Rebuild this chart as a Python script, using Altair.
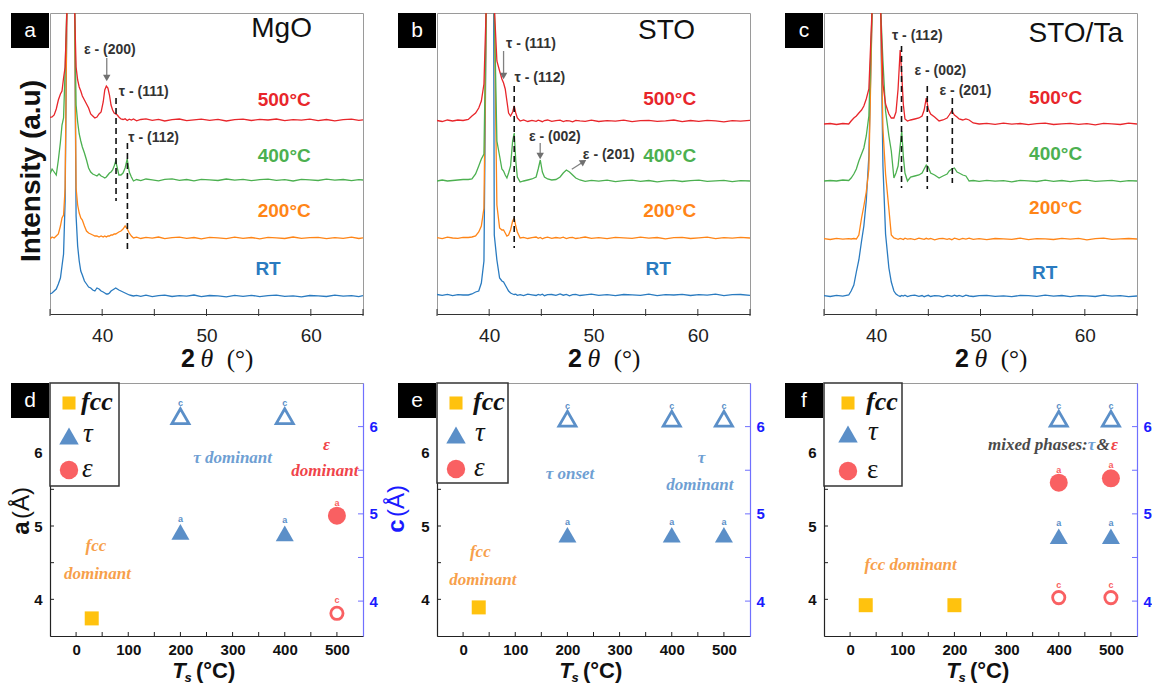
import math
import altair as alt
import pandas as pd

SANS = "Liberation Sans"
SERIF = "Liberation Serif"

# ---------------- top row: XRD patterns ----------------
SERIES = ["RT", "200°C", "400°C", "500°C"]
SERIES_COLORS = ["#2A7BC0", "#FF8517", "#4CB050", "#E8262B"]
TOP_TICKS = [35, 40, 45, 50, 55, 60, 65]
TOP_LABELS = [40, 50, 60]

# panel a (MgO)
XA = [35.0, 35.2, 35.4, 35.6, 35.8, 36.0, 36.15, 36.3, 36.45, 36.62,
      37.0, 37.36, 37.5, 37.65, 37.8, 37.95, 38.1, 38.3, 38.5, 38.7,
      38.9, 39.1, 39.3, 39.5, 39.7, 39.9, 40.1, 40.25, 40.4, 40.55,
      40.7, 40.85, 41.0, 41.15, 41.3, 41.45, 41.6, 41.8, 42.0, 42.2,
      42.4, 42.6, 42.8, 43.0, 43.3, 43.7, 44.2, 44.8, 45.4, 46.0,
      46.7, 47.4, 48.1, 48.8, 49.5, 50.3, 51.1, 51.9, 52.7, 53.5,
      54.3, 55.1, 55.9, 56.7, 57.5, 58.3, 59.1, 59.9, 60.7, 61.5,
      62.3, 63.1, 63.9, 64.6, 65.0]
A_500 = [2.7, 3, 5, 11, 20, 26, 29, 42, 53, 110,
         1500, 110, 53, 40, 33, 29, 24, 20, 16, 12,
         6, 4, 2, 3, 6, 8, 18, 30, 34, 32,
         25, 15, 10, 7, 6, 5, 3, 1, 0.5, 1.2,
         -0.5, 0.8, 0, 1, -0.8, 0.5, 1.2, -0.3, 0.6, -1,
         0.4, 1, -0.6, 0.2, 0.9, -0.4, 0.7, -1, 0.3, 0.8,
         -0.5, 0.6, 0, 1, -0.7, 0.4, -0.2, 0.9, -0.6, 0.5,
         -0.9, 0.3, 0.8, -0.4, 0.2]
A_400 = [6, 11, 8, 5, 20, 38, 55, 62, 110, 175,
         1500, 175, 75, 58, 46, 39, 33, 27, 20, 12,
         8, 6, 5, 4, 6, 4, 3, 2, 3, 5,
         7, 8, 10, 14, 19, 12, 5, 5, 7, 12,
         21, 8, 3, -1, 0.5, -0.6, 1, 0.2, -0.8, 0.6,
         1.1, -0.3, 0.5, -0.9, 0.7, 0.1, -0.5, 1, -0.2, 0.6,
         -0.7, 0.4, 0.9, -0.4, 0.3, -1, 0.6, 0.2, -0.5, 0.8,
         -0.2, 0.5, -0.7, 0.4, 0]
A_200 = [-1, 1, 0, 2, 4, 12, 20, 23, 50, 230,
         1500, 230, 50, 33, 25, 20, 18, 12, 7, 5,
         4, 3, 2, 2, 1, 2, 1, 2, 1, 2,
         2, 3, 3, 4, 4, 5, 6, 7, 9, 12,
         9, 5, 2, 0, 0.8, -0.5, 0.6, -0.2, 1, -0.7,
         0.3, 0.9, -0.4, 0.5, -0.9, 0.7, 0.2, -0.6, 0.8, -0.3,
         0.5, -0.8, 0.6, 0.1, -0.5, 1, -0.4, 0.3, 0.7, -0.6,
         0.4, -0.3, 0.9, -0.5, 0.2]
A_RT = [2, 3, 5, 7, 12, 18, 30, 42, 95, 290,
        1500, 290, 80, 50, 35, 25, 21, 15, 12, 9,
        8, 6, 5, 8, 7, 5, 4, 3, 2, 2,
        3, 5, 6, 7, 8, 7, 6, 5, 4, 3,
        2, 1, 0.5, 0, 0.7, -0.4, 0.9, -0.6, 0.3, 0.8,
        -0.5, 0.4, -0.1, 1, -0.7, 0.5, 0.2, -0.8, 0.6, -0.3,
        0.7, -0.6, 0.3, 0.9, -0.4, 0.2, -0.9, 0.5, 0.1, -0.5,
        0.8, -0.2, 0.4, -0.7, 0.3]
A_OFFSET = [18, 76, 134, 194]
A_LAB_X = [55.9, 57.45, 57.45, 57.45]
A_LAB_Y = [45, 103, 158, 214]
A_PEAK_TEXT = ["ε - (200)", "τ - (111)", "τ - (112)"]
A_PEAK_X = [40.73, 43.98, 44.93]
A_PEAK_Y = [264, 222, 176]
A_DASH_X = [41.33, 42.42]
A_DASH_TOP = [216, 171]
A_DASH_BOT = [113, 65]
A_ARROW_X0 = [40.44]
A_ARROW_Y0 = [256]
A_ARROW_X1 = [40.44]
A_ARROW_Y1 = [236]

# panel b (STO)
XB = [35.0, 35.5, 36.0, 36.5, 37.0, 37.5, 38.0, 38.35, 38.7, 39.0,
      39.25, 39.5, 39.72, 40.1, 40.49, 40.74, 41.0, 41.22, 41.38, 41.54,
      41.7, 41.86, 42.05, 42.25, 42.4, 42.55, 42.7, 42.97, 43.3, 43.7,
      44.1, 44.5, 44.7, 44.9, 45.1, 45.3, 45.6, 46.0, 46.4, 46.8,
      47.1, 47.4, 47.7, 48.0, 48.3, 48.7, 49.2, 49.8, 50.5, 51.3,
      52.1, 52.9, 53.7, 54.5, 55.3, 56.1, 56.9, 57.7, 58.5, 59.3,
      60.1, 60.9, 61.7, 62.5, 63.3, 64.1, 65.0]
B_500 = [0.5, -0.5, 1, 0, 1, 0.5, 1.5, 5, 8, 13,
         20, 37, 115, 1500, 115, 60, 50, 42, 38, 32,
         20, 8, 5, 9, 15, 8, 3, 0, 1, -0.5,
         0.6, -0.3, 0.9, 0.2, -0.7, 0.5, 1, -0.4, 0.3, 0.8,
         -0.6, 0.4, 0.1, -0.8, 0.7, 0.2, -0.3, 0.9, -0.5, 0.4,
         -0.2, 0.8, -0.7, 0.3, 0.6, -0.4, 0.1, 1, -0.6, 0.5,
         -0.3, 0.7, 0.2, -0.8, 0.4, -0.1, 0.6]
B_400 = [0, 1, 0, 0.5, 1, 1.5, 1.5, 2, 7, 15,
         22, 27, 175, 1500, 175, 40, 25, 12, 10, 6,
         3, 8, 15, 40, 48, 20, 4, -1, 0, 1,
         2, 4, 12, 21, 9, 4, 2, 1, 1.5, 4,
         8, 11, 9, 6, 3, 1, -0.4, 0.6, -0.2, 0.8,
         -0.6, 0.3, 0.9, -0.3, 0.5, -0.8, 0.2, 0.7, -0.5, 0.4,
         0.9, -0.4, 0.1, 0.6, -0.7, 0.3, 0]
B_200 = [0.3, -0.6, 0.8, 0, -0.4, 0.6, 0.5, 1, 2, 6,
         12, 30, 230, 1500, 230, 33, 10, 8, 8, 5,
         2, 3, 8, 17, 20, 12, 6, 0, 0.7, -0.5,
         0.4, 1, -0.3, 0.6, -0.8, 0.2, 0.9, -0.4, 0.5, -0.1,
         0.8, -0.6, 0.3, 0.7, -0.5, 0.1, 1, -0.3, 0.4, -0.7,
         0.6, 0.2, -0.4, 0.9, -0.2, 0.5, -0.8, 0.3, 0.7, -0.5,
         0.2, 0.8, -0.6, 0.4, -0.1, 0.6, 0]
B_RT = [0.5, -0.3, 0.7, -0.6, 0.4, 0, 0, 1, 3, 4,
        12, 34, 285, 1500, 60, 35, 17, 14, 13, 10,
        7, 4, 2, 1, 0.5, 0.8, -0.3, 0.4, -0.6, 0.9,
        0.2, -0.5, 0.6, -0.1, 0.8, -0.7, 0.3, 0.5, -0.4, 1,
        -0.2, 0.6, -0.8, 0.3, 0.7, -0.5, 0.1, 0.9, -0.3, 0.4,
        -0.7, 0.5, 0.2, -0.4, 0.8, -0.6, 0.3, 0, 0.7, -0.5,
        0.4, -0.2, 0.9, -0.6, 0.3, 0.5, -0.3]
B_OFFSET = [19, 76, 133, 193]
B_LAB_X = [56.2, 57.3, 57.3, 57.3]
B_LAB_Y = [45, 103, 158, 215]
B_PEAK_TEXT = ["τ - (111)", "τ - (112)", "ε - (002)", "ε - (201)"]
B_PEAK_X = [44.0, 44.86, 46.3, 51.46]
B_PEAK_Y = [270, 236, 177, 159]
B_DASH_X = [42.40]
B_DASH_TOP = [228]
B_DASH_BOT = [66]
B_ARROW_X0 = [41.38, 44.89, 47.92]
B_ARROW_Y0 = [263, 171, 144.7]
B_ARROW_X1 = [41.38, 44.89, 49.04]
B_ARROW_Y1 = [238, 158, 152.3]

# panel c (STO/Ta)
XC = [35.0, 35.6, 36.2, 36.8, 37.37, 37.6, 37.86, 38.1, 38.34, 38.6,
      38.82, 39.05, 39.3, 39.62, 40.0, 40.42, 40.65, 40.9, 41.22, 41.45,
      41.7, 41.9, 42.1, 42.3, 42.45, 42.6, 42.76, 43.0, 43.3, 43.7,
      44.1, 44.4, 44.6, 44.8, 45.0, 45.22, 45.6, 46.03, 46.4, 46.8,
      47.0, 47.25, 47.5, 47.75, 47.95, 48.3, 48.6, 48.91, 49.3, 49.87,
      50.6, 51.4, 52.2, 53.0, 53.8, 54.6, 55.4, 56.2, 57.0, 57.8,
      58.6, 59.4, 60.2, 61.0, 61.8, 62.6, 63.4, 64.2, 65.0]
C_500 = [0, 0.5, -0.5, 0.5, 0, 3, 6, 8, 11, 14,
         18, 25, 35, 118, 1500, 118, 40, 20, 10, 6,
         6, 12, 35, 74, 50, 20, 5, 3, 4, 5,
         6, 8, 14, 26, 15, 10, 7, 3, 4, 6,
         9, 13, 9, 7, 5, 4, 5, 4, 1, 0,
         0.6, -0.4, 0.8, -0.2, 0.5, -0.7, 0.3, 0.9, -0.5, 0.2,
         0.7, -0.3, 0.4, -0.8, 0.6, 0.1, -0.5, 0.8, 0]
C_400 = [0, 0.5, 0, 1, 0.5, 3, 7, 12, 20, 27,
         33, 45, 65, 175, 1500, 175, 120, 70, 45, 30,
         3, 8, 15, 35, 50, 25, 8, 0, 4, 5,
         6, 8, 12, 16, 14, 8, 6, 3, 5, 7,
         10, 12, 13, 9, 8, 6, 5, 0, 0.5, -0.4,
         0.7, -0.2, 0.4, -0.8, 0.6, 0.2, -0.5, 0.9, -0.3, 0.5,
         -0.6, 0.3, 0.8, -0.4, 0.1, 0.6, -0.7, 0.4, 0]
C_200 = [0.3, -0.5, 0.6, -0.2, 0.4, 0, 0.5, 0, 4, 21,
         33, 47, 70, 230, 1500, 230, 110, 65, 30, 4,
         1, 0.5, -0.3, 0.6, 0.2, -0.5, 0.8, -0.2, 0.4, -0.6,
         0.9, 0.1, -0.4, 0.7, -0.1, 0.5, -0.8, 0.3, 0.6, -0.3,
         0.4, -0.7, 0.8, 0.2, -0.5, 0.6, -0.1, 0.9, -0.4, 0.3,
         -0.6, 0.5, 0.1, -0.3, 0.8, -0.7, 0.4, 0.2, -0.5, 0.7,
         -0.2, 0.6, -0.8, 0.3, 0.9, -0.4, 0.1, 0.5, 0]
C_RT = [0.4, -0.5, 0.7, -0.2, 1, 5, 11, 24, 36, 55,
        70, 95, 140, 290, 1500, 290, 130, 62, 28, 14,
        5, 2, 0.5, -0.4, 0.6, -0.1, 0.8, -0.6, 0.3, 0.9,
        -0.3, 0.5, -0.7, 0.2, 0.7, -0.5, 0.4, 0.1, -0.8, 0.6,
        0.3, -0.4, 0.9, -0.2, 0.5, -0.6, 0.8, 0, -0.5, 0.4,
        0.7, -0.3, 0.2, -0.7, 0.6, 0.3, -0.4, 0.9, -0.1, 0.5,
        -0.6, 0.4, 0.1, -0.5, 0.8, -0.2, 0.3, -0.7, 0]
C_OFFSET = [18, 75, 133, 190]
C_LAB_X = [56.15, 57.2, 57.2, 57.2]
C_LAB_Y = [41, 106, 160, 216]
C_PEAK_TEXT = ["τ - (112)", "ε - (002)", "ε - (201)"]
C_PEAK_X = [43.94, 46.15, 48.56]
C_PEAK_Y = [278, 243, 223]
C_DASH_X = [42.43, 44.9, 47.3]
C_DASH_TOP = [268, 228, 216]
C_DASH_BOT = [126, 125, 131]

# ---------------- bottom row: lattice parameters ----------------
BOT_LABELS = [0, 100, 200, 300, 400, 500]
BOT_TICKS = [0, 50, 100, 150, 200, 250, 300, 350, 400, 450, 500]
A_AXIS_VALUES = [4, 5, 6]
A_TICKS = [4, 4.5, 5, 5.5, 6, 6.5]
C_AXIS_VALUES = [4, 5, 6]
C_TICKS = [4, 4.5, 5, 5.5, 6]

# panel d
D_FCC_T, D_FCC_A = [30], [3.74]
D_TAU_T, D_TAU_A = [200, 400], [4.92, 4.90]
D_EPS_T, D_EPS_A = [500], [5.14]
D_TAUC_T, D_TAUC_C = [200, 400], [6.12, 6.12]
D_EPSC_T, D_EPSC_C = [500], [3.86]
# panel e
E_FCC_T, E_FCC_A = [30], [3.89]
E_TAU_T, E_TAU_A = [200, 400, 500], [4.88, 4.88, 4.88]
E_EPS_T, E_EPS_A = [], []
E_TAUC_T, E_TAUC_C = [200, 400, 500], [6.09, 6.09, 6.09]
E_EPSC_T, E_EPSC_C = [], []
# panel f
F_FCC_T, F_FCC_A = [30, 200], [3.92, 3.92]
F_TAU_T, F_TAU_A = [400, 500], [4.86, 4.86]
F_EPS_T, F_EPS_A = [400, 500], [5.59, 5.65]
F_TAUC_T, F_TAUC_C = [400, 500], [6.09, 6.09]
F_EPSC_T, F_EPSC_C = [400, 500], [4.04, 4.04]

C_FCC = "#FFC20E"
C_TAU = "#5B8FC8"
C_EPS = "#F96062"
N_BLUE = "#6F9FD3"
N_RED = "#F0444A"
N_ORANGE = "#F7A04B"
N_GRAY = "#4A4A4A"
AXIS_BLUE = "#1A1AFF"

D_NOTE_TEXT = ["τ dominant", "ε", "dominant", "fcc", "dominant"]
D_NOTE_T = [300, 480, 477, 38, 41]
D_NOTE_A = [5.93, 6.11, 5.75, 4.73, 4.35]
D_NOTE_COL = [N_BLUE, N_RED, N_RED, N_ORANGE, N_ORANGE]
E_NOTE_TEXT = ["τ onset", "τ", "dominant", "fcc", "dominant"]
E_NOTE_T = [205, 457, 454, 33, 38]
E_NOTE_A = [5.71, 5.93, 5.56, 4.65, 4.27]
E_NOTE_COL = [N_BLUE, N_BLUE, N_BLUE, N_ORANGE, N_ORANGE]
F_NOTE_TEXT = ["mixed phases:", "τ", "&", "ε", "fcc dominant"]
F_NOTE_T = [360, 463, 485, 507, 116]
F_NOTE_A = [6.11, 6.11, 6.11, 6.11, 4.47]
F_NOTE_COL = [N_GRAY, N_BLUE, N_GRAY, N_RED, N_ORANGE]

W = 313
H_TOP = 301
H_BOT = 253
ONE = pd.DataFrame({"k": [0]})

SX_TOP = alt.Scale(domain=[35, 65], nice=False, zero=False)
SY_TOP = alt.Scale(domain=[0, 301], nice=False, zero=False)
AX_TOP = alt.Axis(values=TOP_LABELS, title=None, ticks=False, grid=False,
                  labelFont=SANS, labelFontSize=19, labelColor="#222",
                  labelPadding=12, domainColor="#333", domainWidth=1.2)
COLOR = alt.Color("series:N", scale=alt.Scale(domain=SERIES, range=SERIES_COLORS), legend=None)


def xt(f):
    return alt.X(f, type="quantitative", scale=SX_TOP, axis=AX_TOP)


def yt(f):
    return alt.Y(f, type="quantitative", scale=SY_TOP, axis=None)


def text_at(x, y, txt, **kw):
    kw.setdefault("baseline", "middle")
    kw.setdefault("align", "center")
    return alt.Chart(ONE).mark_text(text=txt, **kw).encode(x=alt.value(x), y=alt.value(y))


def letter_box(letter):
    box = alt.Chart(ONE).mark_rect(color="#000").encode(
        x=alt.value(-39), x2=alt.value(-1), y=alt.value(0), y2=alt.value(35))
    lab = text_at(-20, 18, letter, font=SANS, fontSize=21, color="white")
    return [box, lab]


def top_panel(letter, grid, curves, offsets, lab_x, lab_y, name, name_x, name_y,
              pk_text, pk_x, pk_y, dash_x, dash_top, dash_bot, arrows, ylabel):
    rows = []
    for s, vals, off in zip(SERIES, curves, offsets, strict=True):
        for x, v in zip(grid, vals, strict=True):
            rows.append({"x": x, "y": off + v, "series": s})
    layers = []
    layers.append(alt.Chart(pd.DataFrame(rows)).mark_line(clip=True, strokeWidth=1.3).encode(
        x=xt("x"), y=yt("y"), color=COLOR))
    layers.append(alt.Chart(pd.DataFrame({"x": TOP_TICKS})).mark_rule(color="#333", strokeWidth=1).encode(
        x=xt("x"), y=alt.value(H_TOP - 5), y2=alt.value(H_TOP + 2)))
    layers.append(alt.Chart(pd.DataFrame({"x": lab_x, "y": lab_y, "series": SERIES})).mark_text(
        font=SANS, fontSize=19, fontWeight="bold").encode(
        x=xt("x"), y=yt("y"), text="series:N", color=COLOR))
    layers.append(alt.Chart(pd.DataFrame({"x": [name_x], "y": [name_y], "t": [name]})).mark_text(
        font=SANS, fontSize=28, color="#111").encode(x=xt("x"), y=yt("y"), text="t:N"))
    layers.append(alt.Chart(pd.DataFrame({"x": pk_x, "y": pk_y, "t": pk_text})).mark_text(
        font=SANS, fontSize=14, fontWeight="bold", color="#333").encode(x=xt("x"), y=yt("y"), text="t:N"))
    layers.append(alt.Chart(pd.DataFrame({"x": dash_x, "y": dash_top, "y2": dash_bot})).mark_rule(
        strokeDash=[6, 4], strokeWidth=1.6, color="#111").encode(x=xt("x"), y=yt("y"), y2=alt.Y2("y2")))
    if arrows:
        x0, y0, x1, y1 = arrows
        ang = []
        for a, b, c, d in zip(x0, y0, x1, y1):
            dx = (c - a) * W / 30.0
            dy = (d - b) * H_TOP / 301.0
            ang.append(round(math.degrees(math.atan2(dx, dy)) % 360, 1))
        adf = pd.DataFrame({"x": x0, "y": y0, "x2": x1, "y2": y1, "ang": ang})
        layers.append(alt.Chart(adf).mark_rule(color="#808080", strokeWidth=1.3).encode(
            x=xt("x"), y=yt("y"), x2=alt.X2("x2"), y2=alt.Y2("y2")))
        layers.append(alt.Chart(adf).mark_point(shape="triangle-up", filled=True, size=55,
                                                color="#707070", opacity=1).encode(
            x=xt("x2"), y=yt("y2"), angle=alt.Angle("ang:Q", scale=None)))
    layers += letter_box(letter)
    layers.append(text_at(138, 346, "2", font=SANS, fontSize=25, fontWeight="bold", color="#111"))
    layers.append(text_at(157, 346, "θ", font=SERIF, fontSize=26, fontStyle="italic", color="#111"))
    layers.append(text_at(190, 346, "(°)", font=SERIF, fontSize=25, color="#111"))
    if ylabel:
        layers.append(text_at(-18, 158, "Intensity (a.u)", font=SANS, fontSize=28,
                              fontWeight="bold", angle=270, color="#111"))
    return alt.layer(*layers).properties(width=W, height=H_TOP)


SX_BOT = alt.Scale(domain=[-50, 550], nice=False, zero=False)
AX_BOT = alt.Axis(values=BOT_LABELS, title=None, ticks=False, grid=False, labelFont=SANS,
                  labelFontSize=15, labelFontWeight="bold", labelColor="#111", labelPadding=6,
                  domainColor="#222", domainWidth=1.2)
SY_A = alt.Scale(domain=[3.5, 6.95], nice=False, zero=False)
AX_A = alt.Axis(values=A_AXIS_VALUES, title=None, ticks=False, grid=False, labelFont=SANS,
                labelFontSize=15, labelFontWeight="bold", labelColor="#111", labelPadding=8,
                domainColor="#222", domainWidth=1.2)
SY_C = alt.Scale(domain=[3.6, 6.5], nice=False, zero=False)
AX_C = alt.Axis(orient="right", values=C_AXIS_VALUES, title=None, ticks=False, grid=False,
                labelFont=SANS, labelFontSize=15, labelFontWeight="bold", labelColor=AXIS_BLUE,
                labelPadding=6, domainColor="#7070FF", domainWidth=1.2)


def xb(f):
    return alt.X(f, type="quantitative", scale=SX_BOT, axis=AX_BOT)


def ya(f):
    return alt.Y(f, type="quantitative", scale=SY_A, axis=AX_A)


def yc(f):
    return alt.Y(f, type="quantitative", scale=SY_C, axis=AX_C)


def marker(T, v, yenc, field, shape, color, size, filled, label):
    df = pd.DataFrame({"T": T, field: v})
    kw = dict(shape=shape, size=size, color=color, opacity=1)
    if filled:
        kw.update(filled=True)
    else:
        kw.update(filled=False, strokeWidth=2.8)
    pts = alt.Chart(df).mark_point(**kw).encode(x=xb("T"), y=yenc(field))
    lab = alt.Chart(df).mark_text(text=label, dy=-13, font=SANS, fontSize=9, fontWeight="bold",
                                  color=color).encode(x=xb("T"), y=yenc(field))
    return [pts, lab]


def bottom_panel(letter, fcc, tau, eps, tauc, epsc, notes, legend, titles):
    left = []
    left.append(alt.Chart(pd.DataFrame({"T": BOT_TICKS})).mark_rule(color="#222").encode(
        x=xb("T"), y=alt.value(H_BOT), y2=alt.value(H_BOT - 4)))
    left.append(alt.Chart(pd.DataFrame({"a": A_TICKS})).mark_rule(color="#222").encode(
        x=alt.value(0), x2=alt.value(4), y=ya("a")))
    left.append(alt.Chart(pd.DataFrame({"T": fcc[0], "a": fcc[1]})).mark_point(
        shape="square", filled=True, size=196, color=C_FCC, opacity=1).encode(x=xb("T"), y=ya("a")))
    if tau[0]:
        left += marker(tau[0], tau[1], ya, "a", "triangle-up", C_TAU, 324, True, "a")
    if eps[0]:
        left += marker(eps[0], eps[1], ya, "a", "circle", C_EPS, 324, True, "a")
    nt, nT, nA, nC = notes
    left.append(alt.Chart(pd.DataFrame({"t": nt, "T": nT, "a": nA, "col": nC})).mark_text(
        font=SERIF, fontSize=17, fontWeight="bold", fontStyle="italic").encode(
        x=xb("T"), y=ya("a"), text="t:N", color=alt.Color("col:N", scale=None)))
    bw, bh, sx, tx, rows, eps_style = legend
    left.append(alt.Chart(ONE).mark_rect(fill="white", stroke="#333", strokeWidth=1.5).encode(
        x=alt.value(0), x2=alt.value(bw), y=alt.value(0), y2=alt.value(bh)))
    left.append(alt.Chart(ONE).mark_point(shape="square", filled=True, size=170, color=C_FCC, opacity=1).encode(
        x=alt.value(sx), y=alt.value(rows[0])))
    left.append(alt.Chart(ONE).mark_point(shape="triangle-up", filled=True, size=380, color=C_TAU, opacity=1).encode(
        x=alt.value(sx), y=alt.value(rows[1])))
    left.append(alt.Chart(ONE).mark_point(shape="circle", filled=True, size=340, color=C_EPS, opacity=1).encode(
        x=alt.value(sx), y=alt.value(rows[2])))
    left.append(text_at(tx, rows[0] - 1, "fcc", font=SERIF, fontSize=26, fontWeight="bold",
                        fontStyle="italic", align="left", color="#111"))
    left.append(text_at(tx + 2, rows[1] - 2, "τ", font=SERIF, fontSize=27, fontStyle="italic",
                        align="left", color="#111"))
    left.append(text_at(tx + 1, rows[2] - 1, "ε", font=SERIF, fontSize=27, fontStyle=eps_style,
                        align="left", color="#111"))
    left += letter_box(letter)
    left.append(text_at(129, 288, "T", font=SANS, fontSize=22, fontWeight="bold", fontStyle="italic", color="#111"))
    left.append(text_at(138, 295, "s", font=SANS, fontSize=13, fontWeight="bold", fontStyle="italic", color="#111"))
    left.append(text_at(146, 288, "(°C)", font=SANS, fontSize=22, fontWeight="bold", color="#111",
                        align="left"))
    if titles:
        left.append(text_at(-28, 145, "a", font=SANS, fontSize=24, fontWeight="bold", angle=270, color="#111"))
        left.append(text_at(-28, 120, "(Å)", font=SANS, fontSize=24, angle=270, color="#111"))
        left.append(text_at(347, 143, "c", font=SANS, fontSize=24, fontWeight="bold", angle=270, color=AXIS_BLUE))
        left.append(text_at(347, 118, "(Å)", font=SANS, fontSize=24, angle=270, color=AXIS_BLUE))

    right = []
    right.append(alt.Chart(pd.DataFrame({"c": C_TICKS})).mark_rule(color="#7070FF").encode(
        x=alt.value(W - 5), x2=alt.value(W), y=yc("c")))
    if tauc[0]:
        right += marker(tauc[0], tauc[1], yc, "c", "triangle-up", C_TAU, 290, False, "c")
    if epsc[0]:
        right += marker(epsc[0], epsc[1], yc, "c", "circle", C_EPS, 150, False, "c")
    return alt.layer(alt.layer(*left), alt.layer(*right)).resolve_scale(y="independent").properties(
        width=W, height=H_BOT)


pa = top_panel("a", XA, [A_RT, A_200, A_400, A_500], A_OFFSET, A_LAB_X, A_LAB_Y, "MgO", 57.2, 285,
               A_PEAK_TEXT, A_PEAK_X, A_PEAK_Y, A_DASH_X, A_DASH_TOP, A_DASH_BOT,
               (A_ARROW_X0, A_ARROW_Y0, A_ARROW_X1, A_ARROW_Y1), True)
pb = top_panel("b", XB, [B_RT, B_200, B_400, B_500], B_OFFSET, B_LAB_X, B_LAB_Y, "STO", 57.0, 283,
               B_PEAK_TEXT, B_PEAK_X, B_PEAK_Y, B_DASH_X, B_DASH_TOP, B_DASH_BOT,
               (B_ARROW_X0, B_ARROW_Y0, B_ARROW_X1, B_ARROW_Y1), False)
pc = top_panel("c", XC, [C_RT, C_200, C_400, C_500], C_OFFSET, C_LAB_X, C_LAB_Y, "STO/Ta", 59.13, 280,
               C_PEAK_TEXT, C_PEAK_X, C_PEAK_Y, C_DASH_X, C_DASH_TOP, C_DASH_BOT, None, False)

pd_ = bottom_panel("d", (D_FCC_T, D_FCC_A), (D_TAU_T, D_TAU_A), (D_EPS_T, D_EPS_A),
                   (D_TAUC_T, D_TAUC_C), (D_EPSC_T, D_EPSC_C),
                   (D_NOTE_TEXT, D_NOTE_T, D_NOTE_A, D_NOTE_COL),
                   (69, 103, 19, 31, [20, 53, 87], "italic"), True)
pe = bottom_panel("e", (E_FCC_T, E_FCC_A), (E_TAU_T, E_TAU_A), (E_EPS_T, E_EPS_A),
                  (E_TAUC_T, E_TAUC_C), (E_EPSC_T, E_EPSC_C),
                  (E_NOTE_TEXT, E_NOTE_T, E_NOTE_A, E_NOTE_COL),
                  (71, 100, 19, 36, [20, 52, 86], "italic"), False)
pf = bottom_panel("f", (F_FCC_T, F_FCC_A), (F_TAU_T, F_TAU_A), (F_EPS_T, F_EPS_A),
                  (F_TAUC_T, F_TAUC_C), (F_EPSC_T, F_EPSC_C),
                  (F_NOTE_TEXT, F_NOTE_T, F_NOTE_A, F_NOTE_COL),
                  (78, 103, 24, 42, [20, 51, 88], "normal"), False)

chart = alt.concat(pa, pb, pc, pd_, pe, pf, columns=3,
                   spacing={"row": 69, "column": 74}, bounds="flush").properties(
    padding={"left": 9, "top": 12, "right": 0, "bottom": 0}
).configure_view(stroke="#9a9a9a", strokeWidth=1)

chart.save("out.html", embed_options={"renderer": "svg", "actions": False})
